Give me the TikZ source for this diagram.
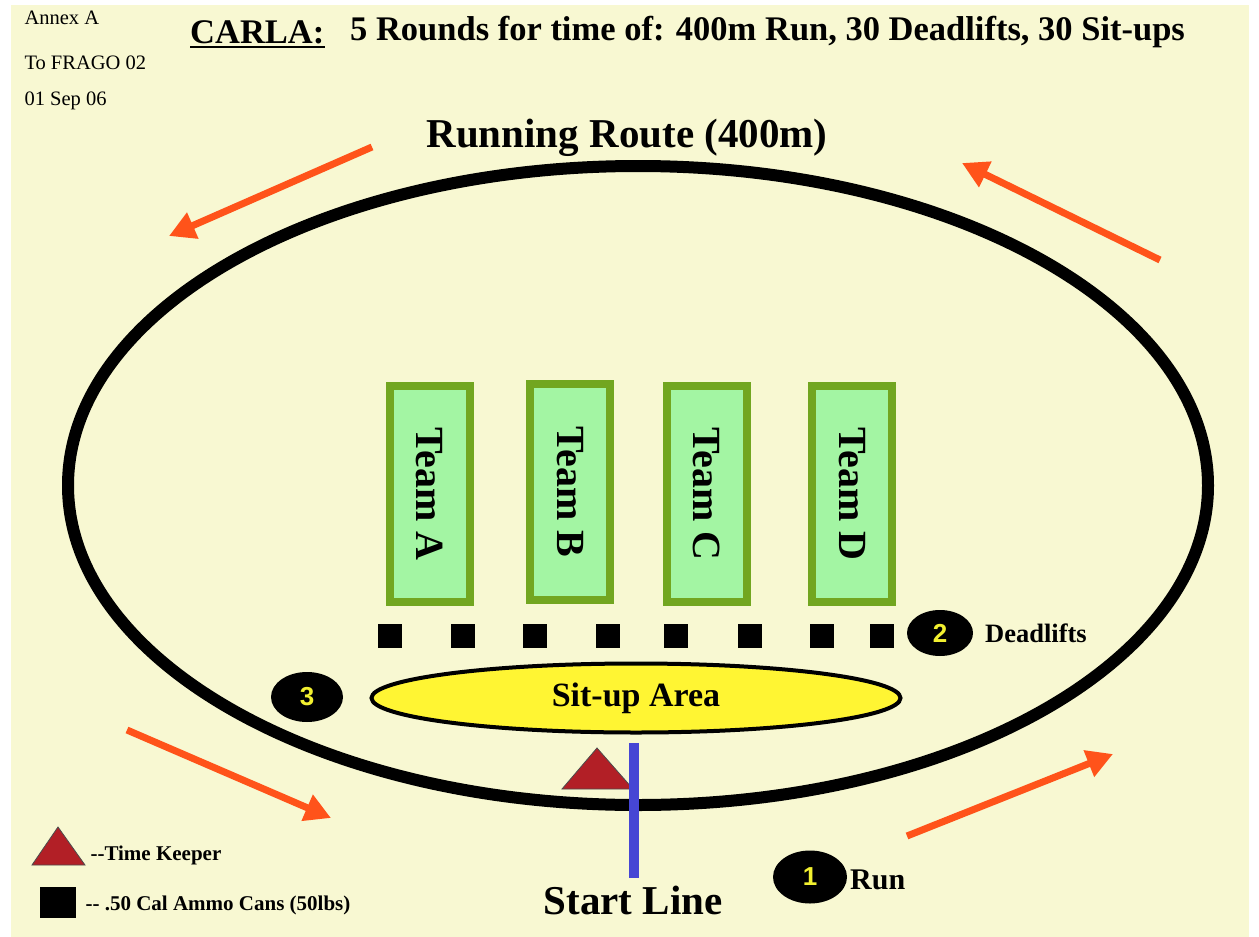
\documentclass[tikz,border=0pt]{standalone}
\usepackage{fontspec}
\setmainfont{Liberation Serif}
\setsansfont{Liberation Sans}
\usepackage{tikz}
\usetikzlibrary{shapes.geometric, arrows.meta}

\definecolor{cream}{HTML}{F8F8D2}
\definecolor{runorange}{HTML}{FF531A}
\definecolor{teamfill}{HTML}{A3F5A3}
\definecolor{teamedge}{HTML}{72A620}
\definecolor{situpyellow}{HTML}{FFF533}
\definecolor{keeperred}{HTML}{B21F26}
\definecolor{startblue}{HTML}{4646D4}
\definecolor{numyellow}{HTML}{F2F030}

\begin{document}
\begin{tikzpicture}[x=1pt, y=-1pt,
    runarrow/.style={line width=7pt, runorange, -{Triangle[length=26pt,width=27pt]}},
    teambox/.style={draw=teamedge, fill=teamfill, line width=8pt, rotate=-90,
        minimum width=216pt, minimum height=80pt, inner sep=0pt,
        font=\fontsize{40}{44}\selectfont\bfseries},
    ammocan/.style={fill=black, minimum size=24pt, inner sep=0pt},
    station/.style={ellipse, fill=black, inner sep=0pt, text=numyellow,
        font=\sffamily\fontsize{26}{28}\selectfont\bfseries},
    keeper/.style={fill=keeperred, draw=black!70, line width=0.8pt},
    note/.style={anchor=west, font=\fontsize{20.5}{22}\selectfont},
    legendtext/.style={anchor=west, font=\fontsize{21}{23}\selectfont\bfseries}]

        % Background
        \useasboundingbox (0,0) rectangle (1259,937);
        \fill[white] (0,0) rectangle (1259,937);
        \fill[cream] (11,5) rectangle (1249,937);

        % Header notes
        \node[note] (annex) at (21,18) {Annex A};
        \node[note] (frago) at (21,63) {To FRAGO 02};
        \node[note] (date) at (21,101) {01 Sep 06};

        % Title
        \node[anchor=west, inner sep=0pt, font=\fontsize{34.5}{38}\selectfont\bfseries] (carla) at (190,32) {CARLA:};
        \draw[line width=2.5pt] ([yshift=-4pt]carla.base west) -- ([yshift=-4pt]carla.base east);
        \node[anchor=west, inner sep=0pt, font=\fontsize{34.5}{38}\selectfont\bfseries] (rounds) at (350,32)
            {5 Rounds for time of: 400m Run, 30 Deadlifts, 30 Sit-ups};
        \node[font=\fontsize{41}{44}\selectfont\bfseries] (route) at (627,138) {Running Route (400m)};

        % Draw the track
        \draw[line width=12pt] (638,485.5) ellipse [x radius=570, y radius=319.5];

        % Arrows indicating direction
        \draw[runarrow] (372,147) -- (169,236);
        \draw[runarrow] (1160,260) -- (962,163);
        \draw[runarrow] (127,730) -- (331,818);
        \draw[runarrow] (907,836) -- (1113,754);

        % Team areas
        \node[teambox] (teamA) at (430,494) {Team A};
        \node[teambox] (teamB) at (570,492) {Team B};
        \node[teambox] (teamC) at (707,494) {Team C};
        \node[teambox] (teamD) at (852,494) {Team D};

        % Ammo cans
        \foreach \x [count=\i] in {390,463,535,608,676,750,822,882} {
            \node[ammocan] (can\i) at (\x,636) {};
        }

        % Stations
        \node[station, minimum width=66pt, minimum height=46pt] (st2) at (940,633) {2};
        \node[anchor=west, inner sep=0pt, font=\fontsize{26.5}{28}\selectfont\bfseries] (deadlifts) at (985,633) {Deadlifts};
        \node[ellipse, draw=black, line width=4pt, fill=situpyellow, inner sep=0pt,
            minimum width=529pt, minimum height=69pt, font=\fontsize{34}{36}\selectfont\bfseries] (situp) at (636,698) {Sit-up Area};
        \node[station, minimum width=72pt, minimum height=50pt] (st3) at (307,697) {3};
        \node[station, minimum width=74pt, minimum height=53pt] (st1) at (810,877) {1};
        \node[anchor=west, inner sep=0pt, font=\fontsize{30}{32}\selectfont\bfseries] (run) at (850,880) {Run};

        % Time keeper and start line
        \draw[keeper] (597,748) -- (633,789) -- (562,789) -- cycle;
        \draw[startblue, line width=10pt] (634,743) -- (634,878);
        \node[font=\fontsize{41}{44}\selectfont\bfseries] (start) at (633,900) {Start Line};

        % Legend
        \draw[keeper] (58,827) -- (85,865) -- (32,865) -- cycle;
        \node[legendtext] (keeperkey) at (87,855) {-{}-Time Keeper};
        \fill (40,887) rectangle (76,918);
        \node[legendtext] (cankey) at (82,905) {-{}- .50 Cal Ammo Cans (50lbs)};
    \end{tikzpicture}
\end{document}
